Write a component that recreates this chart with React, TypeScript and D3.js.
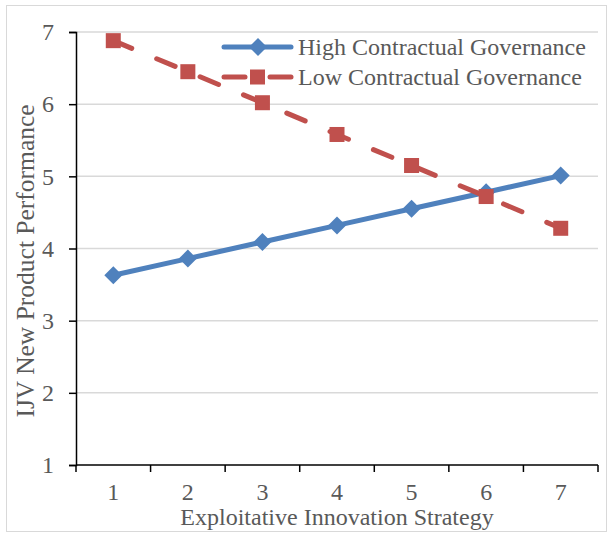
import React, { useEffect, useRef } from "react";
import * as d3 from "d3";

const categories = [1, 2, 3, 4, 5, 6, 7];
const highValues = [3.63, 3.86, 4.09, 4.32, 4.55, 4.78, 5.01];
const lowValues = [6.88, 6.45, 6.02, 5.58, 5.15, 4.72, 4.28];
const yTicks = [1, 2, 3, 4, 5, 6, 7];
const seriesNames = ["High Contractual Governance", "Low Contractual Governance"];

const W = 612;
const H = 534;

const App = () => {
  const ref = useRef<SVGSVGElement>(null);

  useEffect(() => {
    const svg = d3.select(ref.current);
    svg.selectAll("*").remove();

    const margin = { top: 32, right: 14, bottom: 69, left: 76 };
    const width = W - margin.left - margin.right;
    const height = H - margin.top - margin.bottom;
    const font = "'Liberation Serif', 'Times New Roman', serif";
    const fontSize = 24;
    const textColor = "#595959";
    const blue = "#4f81bd";
    const red = "#c0504d";

    svg
      .append("rect")
      .attr("x", 6.5)
      .attr("y", 5.5)
      .attr("width", 600)
      .attr("height", 526)
      .attr("fill", "white")
      .attr("stroke", "#d9d9d9");

    const g = svg.append("g").attr("transform", `translate(${margin.left},${margin.top})`);

    const x = d3.scaleBand<number>().domain(categories).range([0, width]);
    const y = d3.scaleLinear().domain([1, 7]).range([height, 0]);

    // gridlines
    g.selectAll(".grid")
      .data(yTicks.slice(1))
      .enter()
      .append("line")
      .attr("x1", 0)
      .attr("x2", width)
      .attr("y1", (d) => y(d))
      .attr("y2", (d) => y(d))
      .attr("stroke", "#d9d9d9")
      .attr("stroke-width", 1.5);

    // y axis
    const yAxis = g
      .append("g")
      .call(d3.axisLeft(y).tickValues(yTicks).tickFormat(d3.format("d")).tickSize(7).tickPadding(15));
    yAxis.select(".domain").attr("stroke", "black").attr("stroke-width", 1.5);
    yAxis.selectAll(".tick line").attr("stroke", "black").attr("stroke-width", 1.5);
    yAxis
      .selectAll("text")
      .attr("font-family", font)
      .attr("font-size", fontSize)
      .attr("fill", textColor);

    // x axis
    const xAxis = g
      .append("g")
      .attr("transform", `translate(0,${height})`)
      .call(d3.axisBottom(x).tickSize(0).tickPadding(18));
    xAxis.select(".domain").remove();
    xAxis
      .selectAll("text")
      .attr("font-family", font)
      .attr("font-size", fontSize)
      .attr("fill", textColor);
    g.append("line")
      .attr("x1", 0)
      .attr("x2", width)
      .attr("y1", height)
      .attr("y2", height)
      .attr("stroke", "black")
      .attr("stroke-width", 1.5);
    g.selectAll(".xtick")
      .data(d3.range(categories.length + 1))
      .enter()
      .append("line")
      .attr("x1", (i) => i * x.step())
      .attr("x2", (i) => i * x.step())
      .attr("y1", height)
      .attr("y2", height + 7)
      .attr("stroke", "black")
      .attr("stroke-width", 1.5);

    const cx = (i: number) => (x(categories[i]) as number) + x.bandwidth() / 2;

    const line = d3
      .line<number>()
      .x((d, i) => cx(i))
      .y((d) => y(d));

    const diamond = "M0,-9L9,0L0,9L-9,0Z";

    g.append("path")
      .datum(highValues)
      .attr("fill", "none")
      .attr("stroke", blue)
      .attr("stroke-width", 5)
      .attr("stroke-linejoin", "round")
      .attr("d", line);

    g.selectAll(".hi")
      .data(highValues)
      .enter()
      .append("path")
      .attr("transform", (d, i) => `translate(${cx(i)},${y(d)})`)
      .attr("d", diamond)
      .attr("fill", blue);

    g.append("path")
      .datum(lowValues)
      .attr("fill", "none")
      .attr("stroke", red)
      .attr("stroke-width", 5)
      .attr("stroke-linecap", "round")
      .attr("stroke-dasharray", "20 27")
      .attr("d", line);

    g.selectAll(".lo")
      .data(lowValues)
      .enter()
      .append("rect")
      .attr("x", (d, i) => cx(i) - 7.5)
      .attr("y", (d) => y(d) - 7.5)
      .attr("width", 15)
      .attr("height", 15)
      .attr("fill", red);

    // legend
    const legend = svg.append("g").attr("transform", "translate(222,47)");
    seriesNames.forEach((name, i) => {
      const row = legend.append("g").attr("transform", `translate(0,${i * 30})`);
      const color = i === 0 ? blue : red;
      if (i === 0) {
        row
          .append("line")
          .attr("x1", 2)
          .attr("x2", 69)
          .attr("stroke", color)
          .attr("stroke-width", 5)
          .attr("stroke-linecap", "round");
        row.append("path").attr("transform", "translate(36,0)").attr("d", diamond).attr("fill", color);
      } else {
        [
          [2, 23],
          [48, 69],
        ].forEach(([a, b]) =>
          row
            .append("line")
            .attr("x1", a)
            .attr("x2", b)
            .attr("stroke", color)
            .attr("stroke-width", 5)
            .attr("stroke-linecap", "round")
        );
        row
          .append("rect")
          .attr("x", 28)
          .attr("y", -7.5)
          .attr("width", 15)
          .attr("height", 15)
          .attr("fill", color);
      }
      row
        .append("text")
        .attr("x", 76)
        .attr("dy", "0.35em")
        .attr("font-family", font)
        .attr("font-size", fontSize)
        .attr("fill", textColor)
        .text(name);
    });

    // axis titles
    svg
      .append("text")
      .attr("x", margin.left + width / 2)
      .attr("y", 525)
      .attr("text-anchor", "middle")
      .attr("font-family", font)
      .attr("font-size", fontSize)
      .attr("fill", textColor)
      .text("Exploitative Innovation Strategy");

    svg
      .append("text")
      .attr("transform", "translate(34,261) rotate(-90)")
      .attr("text-anchor", "middle")
      .attr("font-family", font)
      .attr("font-size", 25.5)
      .attr("fill", textColor)
      .text("IJV New Product Performance");
  }, []);

  return (
    <svg
      ref={ref}
      width={W}
      height={H}
      style={{ position: "absolute", left: 0, top: 0 }}
    />
  );
};

export default App;
